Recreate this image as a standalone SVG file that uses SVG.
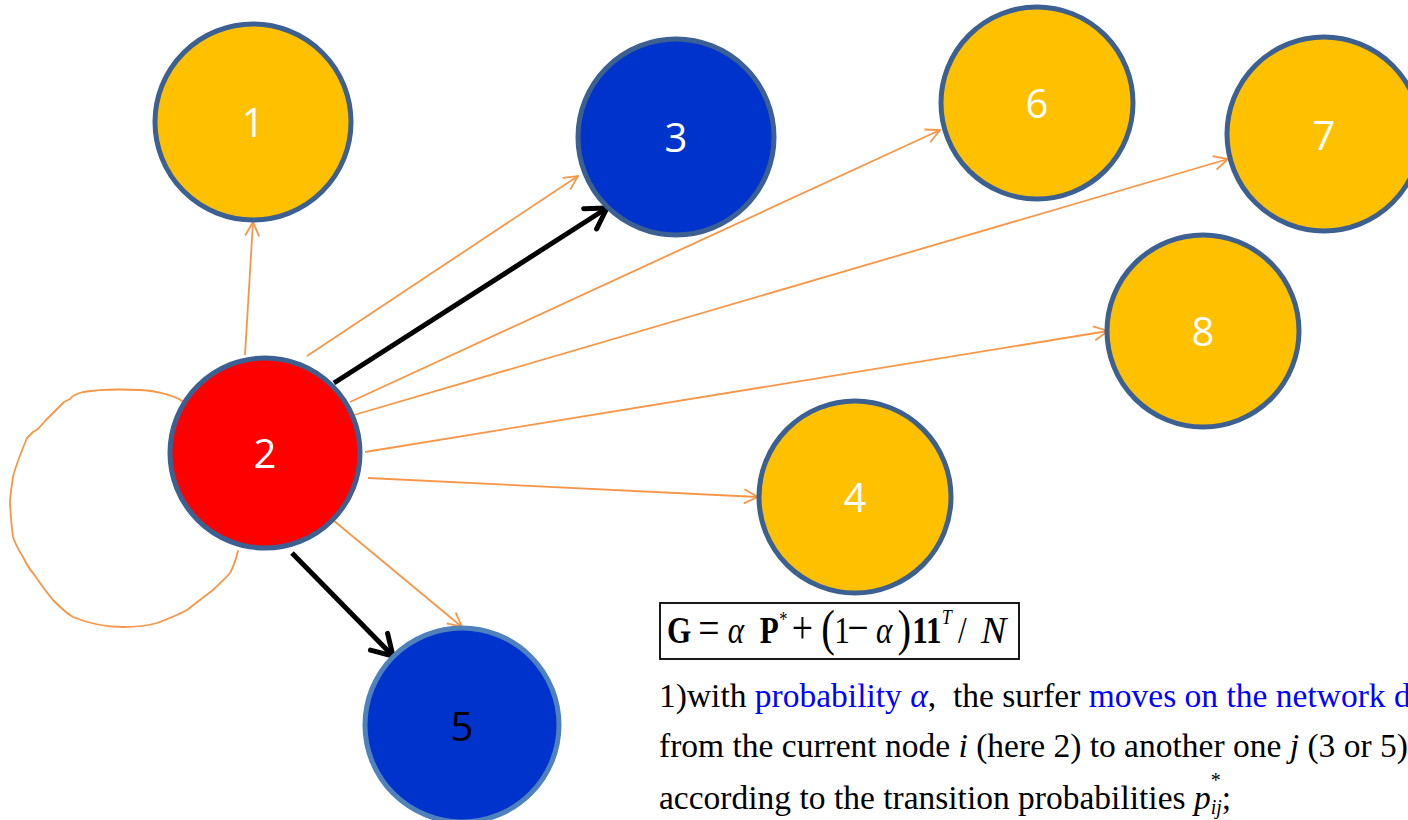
<svg xmlns="http://www.w3.org/2000/svg" width="1408" height="820" viewBox="0 0 1408 820">
<defs>
<marker id="oa" viewBox="0 0 16 16" refX="15" refY="8" markerWidth="16" markerHeight="16" markerUnits="userSpaceOnUse" orient="auto">
<path d="M1,1 L15,8 L1,15" fill="none" stroke="#F79646" stroke-width="1.8"/>
</marker>
<marker id="ba" viewBox="0 0 26 30" refX="23" refY="15" markerWidth="26" markerHeight="30" markerUnits="userSpaceOnUse" orient="auto">
<path d="M3,3 L23,15 L3,27" fill="none" stroke="#000" stroke-width="5" stroke-linecap="round" stroke-linejoin="round"/>
</marker>
</defs>
<style>
.node circle{stroke:#3C6091;stroke-width:5}
.y{fill:#FFC000}
.b{fill:#0033CC}
.r{fill:#FF0000}
.lbl{font-family:"Open Sans","Noto Sans",sans-serif;font-size:40px;fill:#fff;text-anchor:middle}
.oe{stroke:#F79646;stroke-width:1.8;fill:none;marker-end:url(#oa)}
.be{stroke:#000;stroke-width:5;fill:none;marker-end:url(#ba)}
.tx{font-family:"Liberation Serif","Times New Roman",serif;font-size:33.5px;fill:#000}
.fm{font-family:"Liberation Serif","Times New Roman",serif;font-size:38px;fill:#000}
text.op{font-size:46px}
.bl{fill:#0000FF}
</style>
<rect width="1408" height="820" fill="#fff"/>
<g id="connectors">
<path d="M185,403 C178,397 160,391 140,390 C118,389 95,390 83,392 C76,394 72,396 70,399 L64,402 L60,406 L56,410 L50,416 L45,421 L38,429 L33,432 L27,438 C20,455 15,468 13,477 C11,490 10,497 10,503 C11,520 12,530 13,537 C16,546 20,552 23,557 C27,565 30,570 33,573 C42,586 48,594 53,600 C60,607 66,613 73,617 C90,624 108,627 123,627 C135,627 147,626 157,623 C168,619 178,615 187,610 C196,603 205,596 213,590 C219,584 225,579 230,573 C234,566 236,559 238,551" fill="none" stroke="#F79646" stroke-width="1.8" stroke-linejoin="round" stroke-linecap="round"/>
<line class="oe" x1="245" y1="355" x2="253" y2="222"/>
<line class="oe" x1="307" y1="356" x2="578" y2="176"/>
<line class="oe" x1="350" y1="402" x2="940" y2="130"/>
<line class="oe" x1="354" y1="415" x2="1228" y2="159"/>
<line class="oe" x1="365" y1="452" x2="1108" y2="331"/>
<line class="oe" x1="368" y1="478" x2="758" y2="497"/>
<line class="oe" x1="333" y1="520" x2="462" y2="627"/>
<line class="be" x1="334" y1="383" x2="607" y2="208"/>
<line class="be" x1="292" y1="553" x2="393" y2="656"/>
</g>
<g id="node1" class="node"><circle class="y" cx="253" cy="122" r="98"/><text class="lbl" x="253" y="137">1</text></g>
<g id="node3" class="node"><circle class="b" cx="676" cy="137" r="98"/><text class="lbl" x="676" y="152">3</text></g>
<g id="node6" class="node"><circle class="y" cx="1037" cy="103" r="96"/><text class="lbl" x="1037" y="118">6</text></g>
<g id="node7" class="node"><circle class="y" cx="1324" cy="134" r="97"/><text class="lbl" x="1324" y="150">7</text></g>
<g id="node8" class="node"><circle class="y" cx="1203" cy="331" r="96"/><text class="lbl" x="1203" y="346">8</text></g>
<g id="node4" class="node"><circle class="y" cx="855" cy="497" r="96"/><text class="lbl" x="855" y="512">4</text></g>
<g id="node2" class="node"><circle class="r" cx="265" cy="453" r="95"/><text class="lbl" x="265" y="468">2</text></g>
<g id="node5" class="node"><circle class="b" cx="462" cy="725" r="97" style="stroke:#4F81BD"/><text class="lbl" x="462" y="741" style="fill:#000">5</text></g>
<g id="formula">
<rect x="660" y="603" width="359" height="56" fill="none" stroke="#000" stroke-width="1.8"/>
<g transform="translate(667,0) scale(0.82,1)">
<text class="fm" x="0" y="643" font-weight="bold">G</text>
<text class="fm op" x="38" y="643">=</text>
<text class="fm" x="74" y="643" font-style="italic">α</text>
<text class="fm" x="113" y="643" font-weight="bold">P</text>
<text class="fm" x="137" y="626" style="font-size:20px">*</text>
<text class="fm op" x="152" y="643">+</text>
<text class="fm" x="188" y="645" style="font-size:50px">(</text>
<text class="fm" x="204" y="643">1</text>
<text class="fm op" x="220" y="643">−</text>
<text class="fm" x="255" y="643" font-style="italic">α</text>
<text class="fm" x="281" y="645" style="font-size:50px">)</text>
<text class="fm" x="299" y="643" font-weight="bold">11</text>
<text class="fm" x="335" y="624" font-style="italic" style="font-size:22px">T</text>
<text class="fm" x="355" y="643">/</text>
</g>
<text class="fm" x="981" y="643" font-style="italic">N</text>
</g>
<g id="text">
<text class="tx" x="659" y="707">1)with <tspan class="bl">probability <tspan font-style="italic">α</tspan></tspan>,&#160; the surfer <tspan class="bl">moves on the network d</tspan></text>
<text class="tx" x="659" y="757">from the current node <tspan font-style="italic">i</tspan> (here 2) to another one <tspan font-style="italic">j</tspan> (3 or 5)</text>
<text class="tx" x="659" y="809">according to the transition probabilities <tspan font-style="italic">p</tspan><tspan dy="-22" style="font-size:20px">*</tspan><tspan dx="-10" dy="27" font-style="italic" style="font-size:20px">ij</tspan><tspan dy="-5">;</tspan></text>
</g>
</svg>
